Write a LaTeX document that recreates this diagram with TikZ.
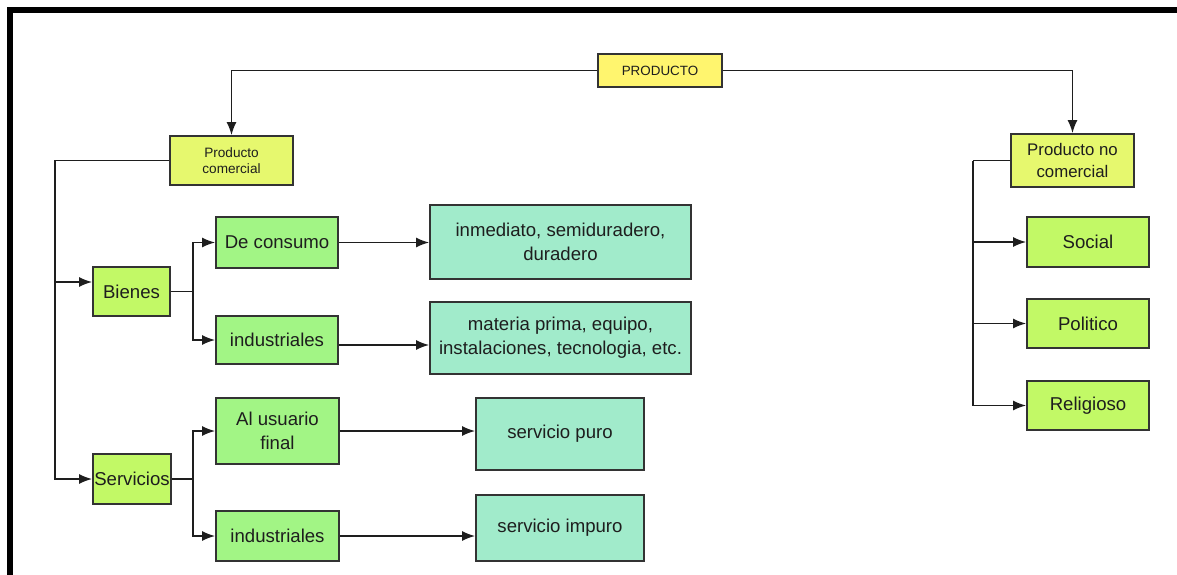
\documentclass[tikz,border=0pt]{standalone}
\usepackage{fontspec}
\setmainfont{Liberation Sans}
\usetikzlibrary{arrows.meta,calc}

\definecolor{prodyellow}{HTML}{FFF56E}
\definecolor{paleyellow}{HTML}{E6F86E}
\definecolor{lime}{HTML}{C2F966}
\definecolor{lightgreen}{HTML}{A2F585}
\definecolor{mint}{HTML}{A1EBCB}
\definecolor{edge}{HTML}{333333}
\definecolor{ink}{HTML}{1E1E1E}

\tikzset{
  box/.style={draw=edge, line width=1.7pt, text=ink, align=center,
              inner sep=0pt, font=\fontsize{18.6}{24}\selectfont},
  topbox/.style={box, fill=prodyellow, font=\fontsize{13.4}{16}\selectfont},
  catbox/.style={box, fill=paleyellow},
  limebox/.style={box, fill=lime},
  greenbox/.style={box, fill=lightgreen},
  mintbox/.style={box, fill=mint},
  link/.style={draw=ink, line width=1.7pt},
  arr/.style={link, -{Latex[length=13pt,width=10pt]}},
}

\begin{document}
\begin{tikzpicture}[x=1pt,y=-1pt]
\useasboundingbox (0,0) rectangle (1177,575);

% outer frame (open at right and bottom)
\draw[line width=6pt, line join=miter] (10,575) -- (10,10) -- (1177,10);

% root
\node[topbox, minimum width=124pt, minimum height=33pt] (prod) at (660,70.5) {PRODUCTO};

% first level
\node[catbox, minimum width=123pt, minimum height=49pt,
      font=\fontsize{13.6}{16.7}\selectfont] (pcom) at (231.5,160.5) {Producto\\comercial};
\node[catbox, minimum width=123pt, minimum height=53pt,
      font=\fontsize{16.8}{21.7}\selectfont] (pnc) at (1072.5,160.5) {Producto no\\comercial};

% commercial branch
\node[limebox, minimum width=77pt, minimum height=49pt] (bienes) at (131.5,291.5) {Bienes};
\node[limebox, minimum width=78pt, minimum height=50pt] (servicios) at (132,479) {Servicios};

\node[greenbox, minimum width=122pt, minimum height=51pt] (consumo) at (277,242.5) {De consumo};
\node[greenbox, minimum width=122pt, minimum height=48pt] (indA) at (277,340) {industriales};
\node[greenbox, minimum width=123pt, minimum height=66pt] (usuario) at (277.5,431) {Al usuario\\final};
\node[greenbox, minimum width=123pt, minimum height=50pt] (indB) at (277.5,536) {industriales};

\node[mintbox, minimum width=261pt, minimum height=74pt] (inmed) at (560.5,242) {inmediato, semiduradero,\\duradero};
\node[mintbox, minimum width=261pt, minimum height=72pt] (materia) at (560.5,338) {materia prima, equipo,\\instalaciones, tecnologia, etc.};
\node[mintbox, minimum width=168pt, minimum height=72pt] (puro) at (560,434) {servicio puro};
\node[mintbox, minimum width=168pt, minimum height=66pt] (impuro) at (560,528) {servicio impuro};

% non-commercial branch
\node[limebox, minimum width=122pt, minimum height=50pt] (social) at (1088,242) {Social};
\node[limebox, minimum width=122pt, minimum height=49pt] (politico) at (1088,323.5) {Politico};
\node[limebox, minimum width=122pt, minimum height=49pt] (religioso) at (1088,405.5) {Religioso};

% bus coordinates
\coordinate (trunkL) at (55,160.5);
\coordinate (forkB) at (193,291.5);
\coordinate (forkS) at (193,479);
\coordinate (trunkR) at (973,160.5);
\coordinate (bienesIn) at ([yshift=9.5pt]bienes.west);
\coordinate (indOut) at ([yshift=-5pt]indA.east);

% root connectors
\draw[arr] (prod.west) -| (pcom.north);
\draw[arr] (prod.east) -| (pnc.north);

% commercial trunk
\draw[arr] (pcom.west) -- (trunkL) |- (servicios.west);
\draw[arr] (trunkL |- bienesIn) -- (bienesIn);

% goods
\draw[link] (bienes.east) -- (forkB);
\draw[arr] (forkB) |- (consumo.west);
\draw[arr] (forkB) |- (indA.west);
\draw[arr] (consumo.east) -- (consumo.east -| inmed.west);
\draw[arr] (indOut) -- (indOut -| materia.west);

% services
\draw[link] (servicios.east) -- (forkS);
\draw[arr] (forkS) |- (usuario.west);
\draw[arr] (forkS) |- (indB.west);
\draw[arr] (usuario.east) -- (usuario.east -| puro.west);
\draw[arr] (indB.east) -- (indB.east -| impuro.west);

% non-commercial trunk
\draw[link] (pnc.west) -- (trunkR);
\draw[arr] (trunkR) |- (religioso.west);
\draw[arr] (trunkR |- social.west) -- (social.west);
\draw[arr] (trunkR |- politico.west) -- (politico.west);
\end{tikzpicture}
\end{document}
